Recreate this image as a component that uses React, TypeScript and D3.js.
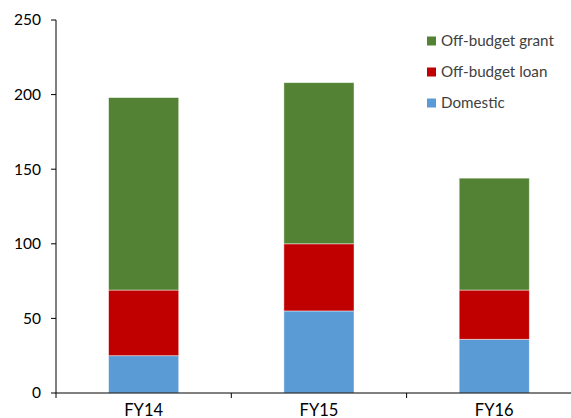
import React from "react";
import * as d3 from "d3";

const categories = ["FY14", "FY15", "FY16"];
const seriesNames = ["Domestic", "Off-budget loan", "Off-budget grant"];
const domestic = [25, 55, 36];
const offBudgetLoan = [44, 45, 33];
const offBudgetGrant = [129, 108, 75];
const yTicks = [0, 50, 100, 150, 200, 250];
const colors = ["#5B9BD5", "#C00000", "#548235"];

const W = 571;
const H = 418;
const left = 56;
const bottom = 393;
const top = 20;
const font = "Lato, 'Open Sans', sans-serif";

export default function App() {
  const x = d3.scaleBand<string>().domain(categories).range([left, left + 3 * 175.3]).paddingInner(0.6).paddingOuter(0.3);
  const bx = d3.scaleBand<string>().domain(categories).range([left, left + 3 * 175.3]);
  const y = d3.scaleLinear().domain([0, 250]).range([bottom, top]);
  const rows = categories.map((c, i) => ({ cat: c, Domestic: domestic[i], "Off-budget loan": offBudgetLoan[i], "Off-budget grant": offBudgetGrant[i] }));
  const stacked = d3.stack<any>().keys(seriesNames)(rows);
  const legendOrder = [2, 1, 0];
  return (
    <svg width={W} height={H} style={{ position: "absolute", left: 0, top: 0 }}>
      <rect width={W} height={H} fill="#fff" />
      {stacked.map((s, si) => (
        <g key={si}>
          {s.map((d, i) => (
            <rect key={i} x={x(categories[i])} width={x.bandwidth()} y={y(d[1])} height={y(d[0]) - y(d[1])} fill={colors[si]} stroke="rgba(255,255,255,0.55)" strokeWidth={0.8} />
          ))}
        </g>
      ))}
      <line x1={left} x2={left} y1={top} y2={bottom} stroke="#000" strokeWidth={1} />
      {yTicks.map((t) => (
        <g key={t}>
          <line x1={left - 5} x2={left} y1={y(t)} y2={y(t)} stroke="#000" />
          <text x={41} y={y(t)} dy="0.35em" textAnchor="end" fontFamily={font} fontSize={15.5} fill="#000">{t}</text>
        </g>
      ))}
      <line x1={left} x2={W} y1={bottom} y2={bottom} stroke="#000" strokeWidth={1} />
      {categories.map((c, i) => (
        <g key={c}>
          <line x1={bx(c)! + bx.bandwidth()} x2={bx(c)! + bx.bandwidth()} y1={bottom} y2={bottom + 5} stroke="#000" />
          <text x={x(c)! + x.bandwidth() / 2} y={415.5} textAnchor="middle" fontFamily={font} fontSize={16.5} fill="#000">{c}</text>
        </g>
      ))}
      <line x1={left} x2={left} y1={bottom} y2={bottom + 5} stroke="#000" />
      {legendOrder.map((si, k) => (
        <g key={si} transform={`translate(427, ${41 + k * 31})`}>
          <rect x={0} y={-4.5} width={9} height={9} fill={colors[si]} />
          <text x={14} y={0} dy="0.35em" fontFamily={font} fontSize={15.2} fill="#404040">{seriesNames[si]}</text>
        </g>
      ))}
    </svg>
  );
}
